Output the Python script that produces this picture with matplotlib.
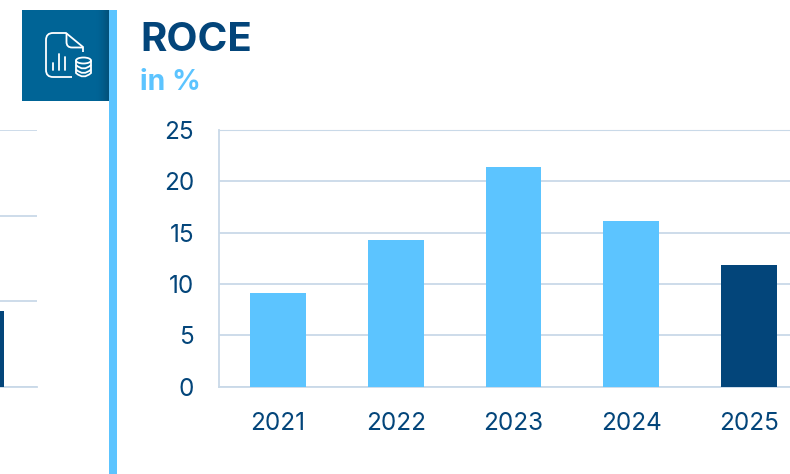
import numpy as np
import matplotlib
matplotlib.use("Agg")
import matplotlib.pyplot as plt
from matplotlib.patches import Ellipse, Rectangle, PathPatch
from matplotlib.path import Path

W, H = 790, 474
NAVY = "#03457A"
SKY = "#5CC4FF"
GRID = "#C9D9E8"
TEAL = "#006496"

years = ["2021", "2022", "2023", "2024", "2025"]
roce = [9.1, 14.3, 21.4, 16.1, 11.8]
bar_colors = [SKY, SKY, SKY, SKY, NAVY]
y_ticks = [0, 5, 10, 15, 20, 25]

# Neighbouring panel, cut off by the left edge of the figure
side_years = ["2025"]
side_values = [8.8]
side_ticks = [0, 10, 20, 30]

plt.rcParams["font.family"] = ["Inter", "DejaVu Sans"]
fig = plt.figure(figsize=(W / 100, H / 100), dpi=100, facecolor="white")


def px_axes(left, top, right, bottom, **kw):
    return fig.add_axes([left / W, 1 - bottom / H, (right - left) / W, (bottom - top) / H], **kw)


def style(ax):
    ax.set_facecolor("none")
    ax.set_axisbelow(True)
    ax.grid(axis="y", color=GRID, lw=1.3)
    for side in ("top", "right"):
        ax.spines[side].set_visible(False)
    for side in ("left", "bottom"):
        ax.spines[side].set_color(GRID)
        ax.spines[side].set_linewidth(1.3)
    ax.tick_params(length=0, labelsize=17.5, labelcolor=NAVY)
    ax.tick_params(axis="x", pad=18)
    ax.tick_params(axis="y", pad=18)


# Main panel: the plot area runs past the right edge of the figure
ax = px_axes(219, 130, 808, 386.5)
ax.bar(years, roce, width=0.472, color=bar_colors, zorder=3)
ax.set_xlim(-0.5, 4.5)
ax.set_ylim(0, 25)
ax.set_yticks(y_ticks)
style(ax)
ax.spines["top"].set_visible(True)
ax.spines["top"].set_color(GRID)

# Side panel
side = px_axes(-81, 130, 37, 386.5)
side.bar([0], side_values, width=0.472, color=NAVY, zorder=3)
side.set_xlim(-0.485, 0.515)
side.set_xticks([-0.05], side_years)
side.set_ylim(0, 30)
side.set_yticks(side_ticks)
side.set_yticklabels([])
style(side)
side.spines["left"].set_visible(False)

# Overlay in pixel coordinates for the header decoration
deco = fig.add_axes([0, 0, 1, 1], zorder=5)
deco.axis("off")

deco.add_patch(Rectangle((109, 10), 8, H - 10, color=SKY, lw=0))

# Icon tile with its darker right-hand shading
tile = np.linspace(0, 1, 87)
ramp = np.clip((tile - 0.86) / 0.14, 0, 1) ** 1.5
base = np.array(matplotlib.colors.to_rgb(TEAL))
dark = np.array(matplotlib.colors.to_rgb("#03517A"))
img = (base[None, :] * (1 - ramp[:, None]) + dark[None, :] * ramp[:, None])[None, :, :]
deco.imshow(img, extent=(22, 109, 101, 10), aspect="auto", zorder=1)
deco.set_xlim(0, W)
deco.set_ylim(H, 0)

LW = 1.3
ic = dict(color="white", lw=LW, solid_capstyle="round", zorder=3)
M, L, C = Path.MOVETO, Path.LINETO, Path.CURVE3
outline = Path(
    [(72, 77), (53, 77), (46, 77), (46, 70), (46, 40), (46, 33), (53, 33), (66, 33), (83, 47), (83, 52)],
    [M, L, C, C, L, C, C, L, L, L],
)
fold = Path([(66.5, 33), (66.5, 42), (66.5, 47.5), (72, 47.5), (83, 47.5)], [M, L, C, C, L])
for p in (outline, fold):
    deco.add_patch(PathPatch(p, fc="none", ec="white", lw=LW, zorder=3))
for x, top in ((53, 63), (59, 54), (65, 57)):
    deco.plot([x, x], [top, 69.5], **ic)

# Database stack beside the document
deco.add_patch(Ellipse((83.5, 60.5), 15, 6, fc="none", ec="white", lw=LW, zorder=3))
deco.plot([76, 76], [60.5, 73], **ic)
deco.plot([91, 91], [60.5, 73], **ic)
for y in (65, 69.5, 73):
    deco.add_patch(PathPatch(Path([(76, y), (83.5, y + 7), (91, y)], [M, C, C]),
                             fc="none", ec="white", lw=LW, zorder=3))

fig.text(140 / W, 1 - 51 / H, "ROCE", fontsize=29, fontweight="bold", color=NAVY, va="baseline")
fig.text(140.5 / W, 1 - 90.5 / H, "in %", fontsize=20.4, fontweight="bold", color=SKY, va="baseline")

fig.savefig("out.png", dpi=100, facecolor="white")
